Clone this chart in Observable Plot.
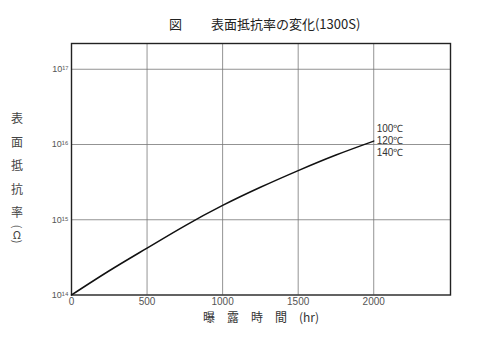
<!DOCTYPE html>
<html><head><meta charset="utf-8">
<script src="https://cdn.jsdelivr.net/npm/d3@7"></script>
<script src="https://cdn.jsdelivr.net/npm/@observablehq/plot@0.6"></script>
<style>
body{margin:0;background:#fff;}
#wrap{width:500px;height:348px;position:relative;overflow:hidden;padding-top:30px;box-sizing:border-box;}
#title{position:absolute;left:169px;top:16px;line-height:16px;font-family:"Noto Sans CJK JP",sans-serif;font-size:13px;font-weight:400;color:#222;white-space:pre;}
#ylab{position:absolute;left:10px;top:106px;width:14px;text-align:center;font-family:"Noto Sans CJK JP",sans-serif;font-size:12px;color:#444;}
#ylab .c{height:23.5px;line-height:23.5px;}
#ylab .p{height:5px;line-height:5px;font-size:11px;transform:rotate(90deg);}
#ylab .o{height:10px;line-height:10px;font-size:11px;}
#wrap svg{display:block;}
</style></head>
<body><div id="wrap"><div id="title"></div><div id="ylab"></div></div>
<script>
const hours = [0, 250, 500, 750, 1000, 1250, 1500, 1750, 2000];
const resistivity = [1.0e14, 2.1e14, 4.2e14, 8.3e14, 1.55e15, 2.7e15, 4.5e15, 7.25e15, 1.11e16];
const xTicks = [0, 500, 1000, 1500, 2000];
const yTicks = [1e14, 1e15, 1e16, 1e17];
const tempLabels = ["100℃", "120℃", "140℃"];
const titleText = "図　　 表面抵抗率の変化(1300S)";
const xLabel = "曝　露　時　間　(hr)";
const yLabel = ["表", "面", "抵", "抗", "率"];
const yUnit = ["(", "Ω", ")"];

document.getElementById("title").textContent = titleText;
const ylab = document.getElementById("ylab");
yLabel.forEach(ch => { const d = document.createElement("div"); d.className = "c"; d.textContent = ch; ylab.append(d); });
yUnit.forEach((ch, i) => { const d = document.createElement("div"); d.className = i === 1 ? "o" : "p"; d.textContent = ch; ylab.append(d); });

const data = hours.map((h, i) => ({h, r: resistivity[i]}));
const sup = {"0":"⁰","1":"¹","2":"²","3":"³","4":"⁴","5":"⁵","6":"⁶","7":"⁷","8":"⁸","9":"⁹"};
const fmtY = d => "10" + String(Math.round(Math.log10(d))).split("").map(c => sup[c]).join("");
const fmtX = d => String(d);
const last = data[data.length - 1];
const cjk = "'Noto Sans CJK JP',sans-serif";

const chart = Plot.plot({
  width: 500, height: 318,
  marginLeft: 71, marginRight: 50, marginTop: 13, marginBottom: 53.5,
  style: {fontFamily: "'Liberation Sans',sans-serif", fontSize: "9px", color: "#555", background: "#fff"},
  x: {domain: [0, 2508], label: null},
  y: {type: "log", domain: [1e14, 2.2e17], label: null},
  marks: [
    Plot.gridX(xTicks.slice(1), {stroke: "#777", strokeOpacity: 1, strokeWidth: 0.8}),
    Plot.gridY(yTicks.slice(1), {stroke: "#777", strokeOpacity: 1, strokeWidth: 0.8}),
    Plot.frame({stroke: "#222", strokeWidth: 1.4}),
    Plot.axisX({ticks: xTicks, tickFormat: fmtX, tickSize: 0, tickPadding: 3, label: null, fontSize: 10}),
    Plot.axisY({ticks: yTicks, tickFormat: fmtY, tickSize: 0, tickPadding: 3, label: null, fontSize: 9}),
    Plot.line(data, {x: "h", y: "r", curve: "natural", stroke: "#111", strokeWidth: 1.5}),
    Plot.text([tempLabels.join("\n")], {x: () => last.h, y: () => last.r, dx: 3, dy: -1, textAnchor: "start", lineAnchor: "middle", lineHeight: 1.2, fontSize: 10, fill: "#333"}),
    Plot.text([xLabel], {frameAnchor: "bottom", dy: 27, fontSize: 12, fill: "#333", fontFamily: cjk})
  ]
});
document.getElementById("wrap").appendChild(chart);
</script></body></html>
